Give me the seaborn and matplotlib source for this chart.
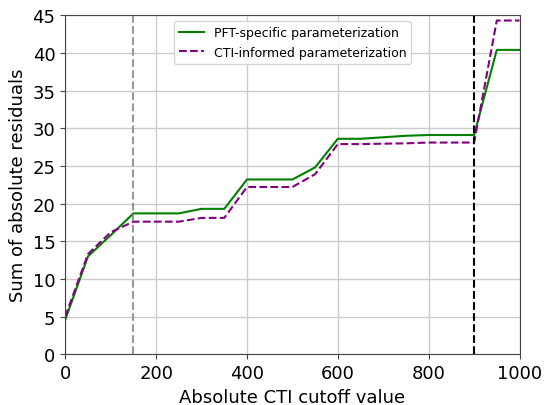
import matplotlib
matplotlib.use("Agg")
import matplotlib.pyplot as plt
import seaborn as sns
import pandas as pd

cutoffs = [0, 50, 100, 150, 200, 250, 300, 350, 400, 450, 500, 550, 600, 650, 700, 750, 800, 850, 900, 950, 1000]
pft_specific = [4.6, 13.0, 15.8, 18.7, 18.7, 18.7, 19.3, 19.3, 23.2, 23.2, 23.2, 24.8, 28.6, 28.6, 28.8, 29.0, 29.1, 29.1, 29.1, 40.4, 40.4]
cti_informed = [5.0, 13.3, 16.2, 17.6, 17.6, 17.6, 18.1, 18.1, 22.2, 22.2, 22.2, 23.9, 27.9, 27.9, 27.95, 28.0, 28.1, 28.1, 28.1, 44.3, 44.3]
vline_left = 150
vline_right = 900

df = pd.DataFrame({"cutoff": cutoffs, "pft": pft_specific, "cti": cti_informed})

fig, ax = plt.subplots(figsize=(5.44, 4.06), dpi=100)
sns.lineplot(data=df, x="cutoff", y="pft", ax=ax, color="green", linewidth=1.5,
             label="PFT-specific parameterization")
sns.lineplot(data=df, x="cutoff", y="cti", ax=ax, color="purple", linewidth=1.5,
             linestyle="--", label="CTI-informed parameterization")
ax.axvline(vline_left, color="grey", linestyle="--", linewidth=1.5, alpha=0.8)
ax.axvline(vline_right, color="black", linestyle="--", linewidth=1.5)

ax.set_xlim(0, 1000)
ax.set_ylim(0, 45)
ax.grid(True, color="#cccccc", linewidth=1)
ax.set_axisbelow(True)
for s in ax.spines.values():
    s.set_color("#444444")
ax.set_xlabel("Absolute CTI cutoff value", fontsize=13)
ax.set_ylabel("Sum of absolute residuals", fontsize=13)
ax.tick_params(labelsize=13, color="#444444")
ax.legend(loc="upper center", fontsize=9)
fig.subplots_adjust(left=0.12, right=0.955, top=0.96, bottom=0.125)
fig.savefig("out.png", dpi=100)
